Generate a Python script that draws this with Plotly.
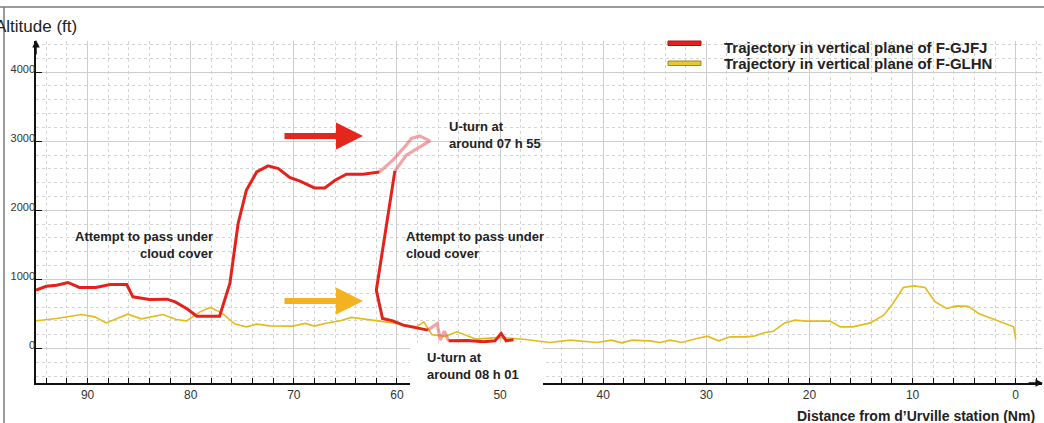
import plotly.graph_objects as go

# ---------------- data ----------------
# F-GJFJ, outbound leg (distance in Nm, altitude in ft)
gjfj_out_nm = [95.0, 94.0, 93.0, 91.9, 90.8, 89.2, 87.8, 86.2, 85.6, 84.0, 82.3, 81.5, 80.4,
               79.4, 78.1, 77.2, 76.2, 75.4, 74.6, 73.6, 72.5, 71.5, 70.4, 69.4, 68.0, 67.0,
               66.0, 64.9, 63.3, 61.7]
gjfj_out_ft = [844, 900, 916, 955, 883, 883, 926, 926, 747, 709, 713, 674, 579,
               467, 467, 467, 940, 1809, 2290, 2555, 2642, 2604, 2474, 2421, 2324, 2324,
               2435, 2522, 2522, 2555]
# F-GJFJ, first U-turn (around 07 h 55)
gjfj_uturn1_nm = [61.7, 60.4, 59.1, 58.6, 57.8, 56.8, 59.1, 60.2]
gjfj_uturn1_ft = [2555, 2725, 2942, 3039, 3077, 3004, 2797, 2570]
# F-GJFJ, descent after the U-turn
gjfj_back_nm = [60.2, 62.0, 61.4, 60.4, 59.4, 58.1, 57.0]
gjfj_back_ft = [2570, 842, 434, 399, 337, 298, 265]
# F-GJFJ, second U-turn (around 08 h 01)
gjfj_uturn2_nm = [57.0, 56.1, 55.8, 55.4, 55.0]
gjfj_uturn2_ft = [265, 360, 120, 250, 110]
# F-GJFJ, final leg
gjfj_end_nm = [55.0, 53.2, 51.6, 50.5, 49.9, 49.4, 48.7]
gjfj_end_ft = [110, 115, 96, 110, 217, 110, 125]

# F-GLHN
glhn_nm = [95.0, 93.0, 90.6, 89.3, 88.2, 86.1, 84.8, 82.7, 81.4, 80.4, 79.1, 78.1, 77.0,
           75.7, 74.6, 73.6, 72.3, 70.1, 68.9, 68.0, 67.0, 65.5, 64.4, 62.3, 60.4, 58.1,
           57.4, 56.6, 55.3, 54.2, 52.3, 50.0, 47.5, 45.2, 43.2, 40.6, 39.2, 38.2, 37.2,
           35.5, 34.5, 33.5, 32.4, 30.9, 29.9, 28.8, 27.7, 26.1, 25.4, 24.3, 23.5, 22.4,
           21.4, 20.3, 18.0, 17.0, 15.8, 14.1, 12.8, 11.9, 10.9, 9.9, 8.8, 7.8, 6.7, 5.7,
           4.6, 3.6, 2.3, 1.0, 0.2, 0.0]
glhn_ft = [400, 434, 492, 457, 370, 496, 428, 492, 420, 400, 530, 593, 515,
           352, 313, 352, 327, 323, 362, 323, 362, 400, 449, 410, 370, 313,
           385, 200, 175, 240, 135, 160, 130, 87, 120, 87, 120, 81, 120,
           110, 87, 120, 87, 145, 178, 110, 168, 168, 178, 232, 250, 370,
           410, 395, 395, 313, 313, 370, 482, 651, 883, 906, 883, 674, 579, 616,
           612, 506, 434, 362, 313, 130]

x_tickvals = [90, 80, 70, 60, 50, 40, 30, 20, 10, 0]
x_ticktext = ["90", "80", "70", "60", "50", "40", "30", "20", "10", "0"]
y_tickvals = [0, 1000, 2000, 3000, 4000]
y_ticktext = ["0", "1000", "2000", "3000", "4000"]

name_gjfj = "Trajectory in vertical plane of F-GJFJ"
name_glhn = "Trajectory in vertical plane of F-GLHN"

# ---------------- styling ----------------
RED = "#e3221b"
PINK = "rgba(232,90,95,0.55)"
YELLOW = "#e4bb1c"
FONT = "Liberation Sans, Arial, Helvetica, sans-serif"
W, H = 1044, 423
ML, MR, MT, MB = 36, 2, 41, 40
PW, PH = W - ML - MR, H - MT - MB


def pxx(p):
    return (p - ML) / PW


def pxy(p):
    return (H - MB - p) / PH


fig = go.Figure()

fig.add_trace(go.Scatter(x=glhn_nm, y=glhn_ft, mode="lines", name=name_glhn,
                         line=dict(color=YELLOW, width=1.6), showlegend=False))
fig.add_trace(go.Scatter(x=gjfj_uturn1_nm, y=gjfj_uturn1_ft, mode="lines", showlegend=False,
                         name=name_gjfj, line=dict(color=PINK, width=3.2)))
fig.add_trace(go.Scatter(x=gjfj_uturn2_nm, y=gjfj_uturn2_ft, mode="lines", showlegend=False,
                         name=name_gjfj, line=dict(color=PINK, width=3.2)))
fig.add_trace(go.Scatter(x=gjfj_out_nm, y=gjfj_out_ft, mode="lines", name=name_gjfj,
                         showlegend=False, line=dict(color=RED, width=3)))
fig.add_trace(go.Scatter(x=gjfj_back_nm, y=gjfj_back_ft, mode="lines", showlegend=False,
                         name=name_gjfj, line=dict(color=RED, width=3)))
fig.add_trace(go.Scatter(x=gjfj_end_nm, y=gjfj_end_ft, mode="lines", showlegend=False,
                         name=name_gjfj, line=dict(color=RED, width=3)))

shapes = []
# white boxes behind the labels and the legend
for (x0, x1, y0, y1, layer) in [(48, 228, 220, 270, "between"),
                                (432, 565, 112, 160, "between"),
                                (397, 565, 222, 268, "between"),
                                (410, 543, 343, 387, "above"),
                                (662, 707, 33, 74, "between"),
                                (707, 1037, 33, 80, "between")]:
    shapes.append(dict(type="rect", xref="paper", yref="paper",
                       x0=pxx(x0), x1=pxx(x1), y0=pxy(y1), y1=pxy(y0),
                       fillcolor="white", line=dict(width=0), layer=layer))
# legend keys
shapes.append(dict(type="rect", xref="paper", yref="paper", x0=pxx(668), x1=pxx(701),
                   y0=pxy(45.5), y1=pxy(41), fillcolor="#e3221b",
                   line=dict(color="#a3151a", width=1), layer="above"))
shapes.append(dict(type="rect", xref="paper", yref="paper", x0=pxx(668), x1=pxx(701),
                   y0=pxy(65.5), y1=pxy(61), fillcolor="#e9c733",
                   line=dict(color="#9b8a26", width=1), layer="above"))
# outer frame (top and left)
shapes.append(dict(type="line", xref="paper", yref="paper", x0=pxx(0), x1=pxx(W),
                   y0=pxy(7), y1=pxy(7), line=dict(color="#7a7a7a", width=1.5)))
shapes.append(dict(type="line", xref="paper", yref="paper", x0=pxx(4), x1=pxx(4),
                   y0=pxy(7), y1=pxy(H), line=dict(color="#7a7a7a", width=1.5)))

TXT = "#222222"
annotations = [
    dict(xref="paper", yref="paper", x=pxx(-7), y=pxy(26), xanchor="left", yanchor="middle",
         text="Altitude (ft)", showarrow=False, font=dict(size=17, color=TXT, family=FONT)),
    dict(xref="paper", yref="paper", x=pxx(1037), y=pxy(416), xanchor="right", yanchor="middle",
         text="Distance from d\u2019Urville station (Nm)", showarrow=False,
         font=dict(size=14, color=TXT, family=FONT, weight="bold")),
    # legend texts
    dict(xref="paper", yref="paper", x=pxx(722), y=pxy(47), xanchor="left", yanchor="middle",
         text=name_gjfj, showarrow=False,
         font=dict(size=15, color=TXT, family=FONT, weight="bold")),
    dict(xref="paper", yref="paper", x=pxx(722), y=pxy(63), xanchor="left", yanchor="middle",
         text=name_glhn, showarrow=False,
         font=dict(size=15, color=TXT, family=FONT, weight="bold")),
    # labels
    dict(xref="paper", yref="paper", x=pxx(215), y=pxy(245), xanchor="right", yanchor="middle",
         text="Attempt to pass under<br>cloud cover", showarrow=False, align="right",
         font=dict(size=13, color=TXT, family=FONT, weight="bold")),
    dict(xref="paper", yref="paper", x=pxx(447), y=pxy(135), xanchor="left", yanchor="middle",
         text="U-turn at<br>around 07 h 55", showarrow=False, align="left",
         font=dict(size=13, color=TXT, family=FONT, weight="bold")),
    dict(xref="paper", yref="paper", x=pxx(404), y=pxy(245), xanchor="left", yanchor="middle",
         text="Attempt to pass under<br>cloud cover", showarrow=False, align="left",
         font=dict(size=13, color=TXT, family=FONT, weight="bold")),
    dict(xref="paper", yref="paper", x=pxx(425), y=pxy(366), xanchor="left", yanchor="middle",
         text="U-turn at<br>around 08 h 01", showarrow=False, align="left",
         font=dict(size=13, color=TXT, family=FONT, weight="bold")),
    # big direction arrows
    dict(xref="paper", yref="paper", x=pxx(363), y=pxy(136), ax=-80, ay=0, text="",
         showarrow=True, arrowhead=2, arrowsize=0.9, arrowwidth=6, arrowcolor="#e5261d"),
    dict(xref="paper", yref="paper", x=pxx(363), y=pxy(301), ax=-80, ay=0, text="",
         showarrow=True, arrowhead=2, arrowsize=0.9, arrowwidth=6, arrowcolor="#f4b223"),
    # axis arrows
    dict(xref="paper", yref="paper", x=0, y=pxy(40), ax=0, ay=16, text="",
         showarrow=True, arrowhead=2, arrowsize=1, arrowwidth=1.5, arrowcolor="#111"),
    dict(xref="paper", yref="paper", x=pxx(1043), y=0, ax=-16, ay=0, text="",
         showarrow=True, arrowhead=2, arrowsize=1, arrowwidth=1.5, arrowcolor="#111"),
]

fig.update_layout(
    width=W, height=H,
    margin=dict(l=ML, r=MR, t=MT, b=MB),
    paper_bgcolor="white", plot_bgcolor="white",
    font=dict(family=FONT, color=TXT),
    shapes=shapes, annotations=annotations,
    showlegend=False,
    xaxis=dict(range=[95, -2.55], tickvals=x_tickvals, ticktext=x_ticktext,
               showline=True, linecolor="#111", linewidth=1.5,
               ticks="inside", ticklen=5, tickcolor="#111", tickwidth=1.2,
               showgrid=True, gridcolor="#cdcdcd", gridwidth=1,
               zeroline=False, tickfont=dict(size=12, color="#333"),
               minor=dict(dtick=2, ticks="inside", ticklen=5, tickcolor="#111",
                          showgrid=True, gridcolor="#d4d4d4", griddash="dot", gridwidth=1)),
    yaxis=dict(range=[-500, 4450], tickvals=y_tickvals, ticktext=y_ticktext,
               showline=True, linecolor="#111", linewidth=1.5,
               ticks="inside", ticklen=6, tickcolor="#111", tickwidth=1.2,
               showgrid=True, gridcolor="#cdcdcd", gridwidth=1,
               zeroline=False, tickfont=dict(size=11, color="#333"),
               ticklabelstandoff=-3, ticklabelshift=-3,
               minor=dict(dtick=200, showgrid=True, gridcolor="#d4d4d4",
                          griddash="dot", gridwidth=1)),
)

fig.write_html("out.html", config={"displayModeBar": False},
               post_script="document.body.style.margin='0';")
